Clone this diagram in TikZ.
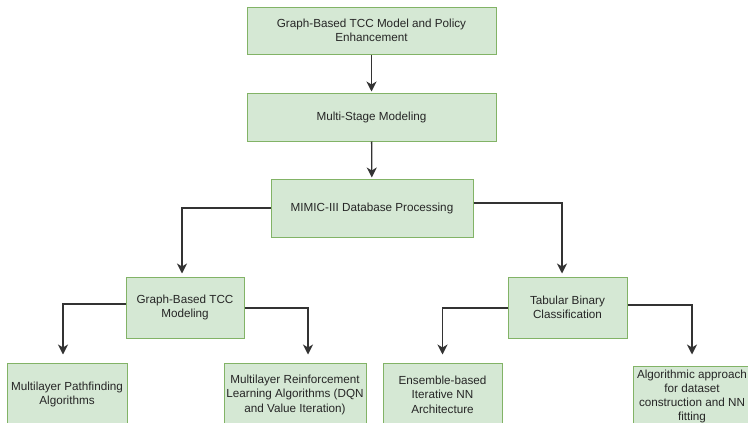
\documentclass[tikz,border=0pt]{standalone}
\usepackage{fontspec}
\setmainfont{Liberation Sans}
\usetikzlibrary{arrows.meta}
\definecolor{boxfill}{HTML}{D5E8D4}
\definecolor{boxline}{HTML}{82B366}
\definecolor{arrline}{HTML}{333333}
\begin{document}
\begin{tikzpicture}[x=1pt,y=-1pt,
  box/.style={draw=boxline, fill=boxfill, line width=1pt, align=center, inner sep=0pt, font=\fontsize{11.7}{14.5}\selectfont, text=black!85},
  arr/.style={draw=arrline, line width=1.3pt, -{Stealth[length=10pt,width=10pt,inset=3pt]}}]
\useasboundingbox (0,0) rectangle (748,423);
\clip (0,0) rectangle (748,423);
\node[box, minimum width=249pt, minimum height=47pt] (top) at (371.5,30.5) {Graph-Based TCC Model and Policy\\Enhancement};
\node[box, minimum width=249pt, minimum height=48pt] (ms) at (371.5,117) {Multi-Stage Modeling};
\node[box, minimum width=202pt, minimum height=58pt] (mimic) at (372,208) {MIMIC-III Database Processing};
\node[box, minimum width=118pt, minimum height=61pt] (gb) at (185,307.5) {Graph-Based TCC\\Modeling};
\node[box, minimum width=119pt, minimum height=61pt] (tb) at (567.5,307.5) {Tabular Binary\\Classification};
\node[box, minimum width=120pt, minimum height=63pt] (mp) at (67,394.5) {Multilayer Pathfinding\\Algorithms};
\node[box, minimum width=142pt, minimum height=63pt] (rl) at (295,394.5) {Multilayer Reinforcement\\Learning Algorithms (DQN\\and Value Iteration)};
\node[box, minimum width=119pt, minimum height=63pt] (en) at (442.5,394.5) {Ensemble-based\\Iterative NN\\Architecture};
\node[box, minimum width=118pt, minimum height=60pt, font=\fontsize{11.7}{14}\selectfont] (al) at (692,396) {Algorithmic approach\\for dataset\\construction and NN\\fitting};
\draw[arr, shorten >=1pt] (top) -- (ms);
\draw[arr, shorten >=1pt] (ms) -- (mimic);
\draw[arr, shorten >=3pt] (mimic.west) -| ([xshift=-3pt]gb.north);
\draw[arr, shorten >=3pt] ([yshift=5pt]mimic.east) -| ([xshift=-5.5pt]tb.north);
\draw[arr, shorten >=8pt] ([yshift=3.5pt]gb.west) -| ([xshift=-4pt]mp.north);
\draw[arr, shorten >=8pt] ([yshift=-0.5pt]gb.east) -| ([xshift=13pt]rl.north);
\draw[arr, shorten >=8pt] ([yshift=-0.5pt]tb.west) -| (en.north);
\draw[arr, shorten >=11pt] ([yshift=2.5pt]tb.east) -| (al.north);
\end{tikzpicture}
\end{document}
